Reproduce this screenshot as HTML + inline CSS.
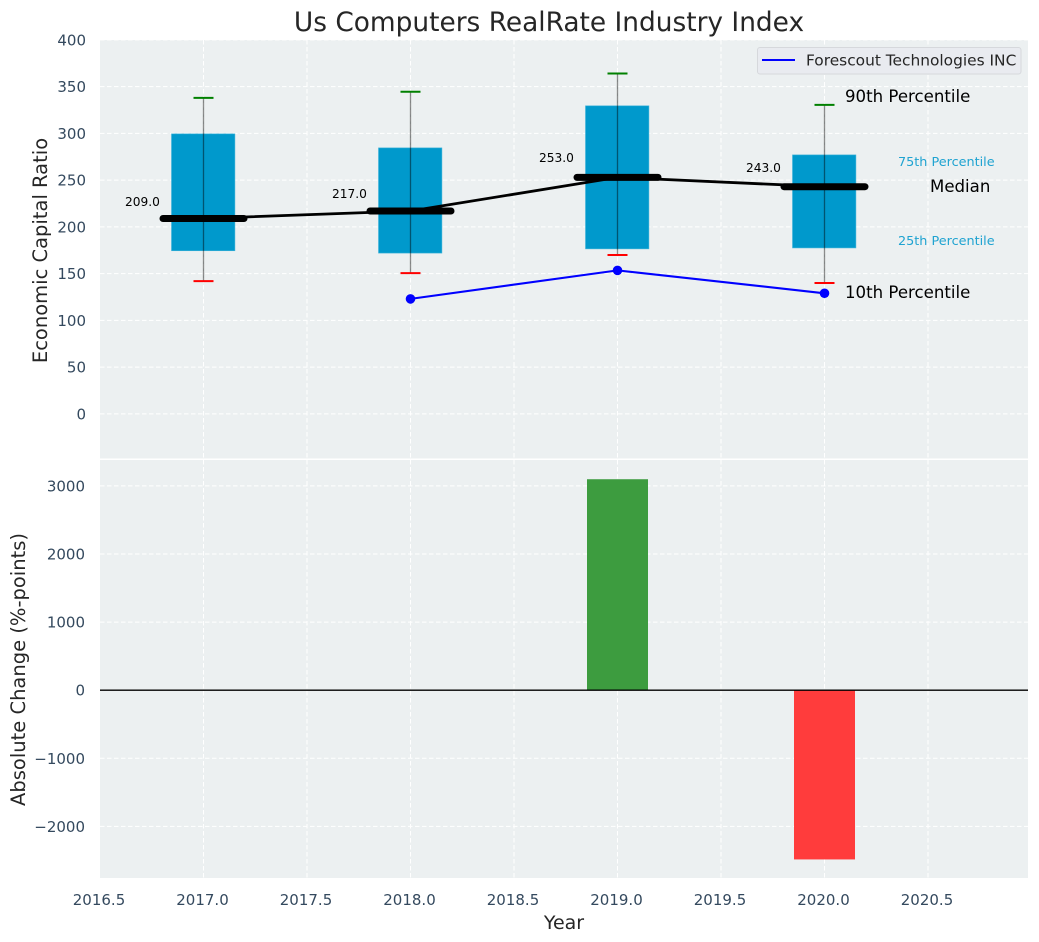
<!DOCTYPE html>
<html lang="en">
<head>
<meta charset="utf-8">
<title>Us Computers RealRate Industry Index</title>
<style>
html,body{margin:0;padding:0;background:#fff;width:1039px;height:942px;overflow:hidden}
svg{display:block}
text{font-family:"DejaVu Sans","Liberation Sans",sans-serif}
</style>
</head>
<body>
<svg id="chart" xmlns="http://www.w3.org/2000/svg" width="1039" height="942" viewBox="0 0 1039 942"></svg>
<script>
const years = [2017, 2018, 2019, 2020];
const p10 = [142, 150.5, 170, 140];
const q1 = [174.5, 172, 176.5, 177.5];
const medians = [209, 217, 253, 243];
const q3 = [299.5, 284.5, 329.5, 277];
const p90 = [338, 344.5, 364, 330.5];
const medianLabels = ['209.0', '217.0', '253.0', '243.0'];
const companyYears = [2018, 2019, 2020];
const companyValues = [123, 153.5, 129];
const changeYears = [2019, 2020];
const changeValues = [3098, -2485];
const xTicks = [2016.5, 2017, 2017.5, 2018, 2018.5, 2019, 2019.5, 2020, 2020.5];
const xTickLabels = ['2016.5', '2017.0', '2017.5', '2018.0', '2018.5', '2019.0', '2019.5', '2020.0', '2020.5'];
const topTicks = [0, 50, 100, 150, 200, 250, 300, 350, 400];
const bottomTicks = [-2000, -1000, 0, 1000, 2000, 3000];
const bottomTickLabels = ['\u22122000', '\u22121000', '0', '1000', '2000', '3000'];

const NS = 'http://www.w3.org/2000/svg';
const svg = document.getElementById('chart');
const L = 100, R = 1028;
const TOP_T = 40, TOP_B = 458.5, BOT_T = 460, BOT_B = 878;
const X = v => 203.5 + (v - 2017) * 207;
const Y1 = v => 413.9 - v * 0.935;
const Y2 = v => 690.2 - v * 0.0681;
const TICK = '#34495e';

function el(tag, props, text) {
  const e = document.createElementNS(NS, tag);
  for (const k in props) e.setAttribute(k, props[k]);
  if (text !== undefined) e.textContent = text;
  svg.appendChild(e);
  return e;
}

// panels
const topPanel = el('rect', {x: L, y: TOP_T, width: R - L, height: TOP_B - TOP_T, fill: '#ecf0f1'});


const botPanel = el('rect', {x: L, y: BOT_T, width: R - L, height: BOT_B - BOT_T, fill: '#ecf0f1'});



// grid
const gridStyle = {stroke: '#ffffff', 'stroke-width': 1, 'stroke-dasharray': '4.5 2.5', fill: 'none'};
xTicks.forEach(t => {
  if (t === 2016.5) return;
  const a = el('line', Object.assign({x1: X(t), x2: X(t), y1: TOP_T, y2: TOP_B}, gridStyle));
  
  
  const b = el('line', Object.assign({x1: X(t), x2: X(t), y1: BOT_T, y2: BOT_B}, gridStyle));
  
  
});
topTicks.forEach(t => {
  const g = el('line', Object.assign({x1: L, x2: R, y1: Y1(t), y2: Y1(t)}, gridStyle));
  
  
  const lab = el('text', {x: 86, y: Y1(t) + 5.5, 'text-anchor': 'end', 'font-size': 15, fill: TICK}, String(t));
  
  
});
bottomTicks.forEach((t, i) => {
  const g = el('line', Object.assign({x1: L, x2: R, y1: Y2(t), y2: Y2(t)}, gridStyle));
  
  
  const lab = el('text', {x: 85, y: Y2(t) + 5.5, 'text-anchor': 'end', 'font-size': 15, fill: TICK}, bottomTickLabels[i]);
  
  
});
xTicks.forEach((t, i) => {
  const lab = el('text', {x: X(t) - 1, y: 905, 'text-anchor': 'middle', 'font-size': 15, fill: TICK}, xTickLabels[i]);
  
  
});

// boxes
years.forEach((y, i) => {
  const box = el('rect', {x: X(y) - 32, y: Y1(q3[i]), width: 63.4, height: Y1(q1[i]) - Y1(q3[i]), fill: '#0099cc', stroke: '#3fb3d9', 'stroke-width': 0.6});
  
  
  const wh = el('line', {x1: X(y), x2: X(y), y1: Y1(p90[i]), y2: Y1(p10[i]), stroke: '#000', 'stroke-opacity': 0.45, 'stroke-width': 1.3});
  
  
  const capHi = el('line', {x1: X(y) - 10, x2: X(y) + 10, y1: Y1(p90[i]), y2: Y1(p90[i]), stroke: '#008000', 'stroke-width': 2});
  
  
  const capLo = el('line', {x1: X(y) - 10, x2: X(y) + 10, y1: Y1(p10[i]), y2: Y1(p10[i]), stroke: '#ff0000', 'stroke-width': 2});
  
  
});

// median trend line
const medLine = el('polyline', {points: years.map((y, i) => X(y) + ',' + Y1(medians[i])).join(' '), fill: 'none', stroke: '#000', 'stroke-width': 2.8});


years.forEach((y, i) => {
  const m = el('line', {x1: X(y) - 40.5, x2: X(y) + 40.5, y1: Y1(medians[i]), y2: Y1(medians[i]), stroke: '#000', 'stroke-width': 7, 'stroke-linecap': 'round'});
  
  
  const t = el('text', {x: X(y) - 61, y: Y1(medians[i] * 1.07) + 1.2, 'text-anchor': 'middle', 'font-size': 12.2, fill: '#000'}, medianLabels[i]);
  
  
});

// company series
const co = el('polyline', {points: companyYears.map((y, i) => X(y) + ',' + Y1(companyValues[i])).join(' '), fill: 'none', stroke: '#0000ff', 'stroke-width': 2.1});


companyYears.forEach((y, i) => {
  const c = el('circle', {cx: X(y), cy: Y1(companyValues[i]), r: 4.8, fill: '#0000ff'});
  
  
});

// percentile annotations
const a90 = el('text', {x: 845, y: 102, 'font-size': 16.6, fill: '#000'}, '90th Percentile');


const a75 = el('text', {x: 898, y: 166, 'font-size': 12.8, fill: '#1fa3d1'}, '75th Percentile');


const aMed = el('text', {x: 930, y: 192, 'font-size': 16.6, fill: '#000'}, 'Median');


const a25 = el('text', {x: 898, y: 245, 'font-size': 12.8, fill: '#1fa3d1'}, '25th Percentile');


const a10 = el('text', {x: 845, y: 298, 'font-size': 16.6, fill: '#000'}, '10th Percentile');



// legend
const lg = el('rect', {x: 757.5, y: 47.5, width: 263.5, height: 26.5, rx: 2.5, fill: '#e9ebf0', stroke: '#d6d8dc', 'stroke-width': 1});


const lgl = el('line', {x1: 762, x2: 795, y1: 60, y2: 60, stroke: '#0000ff', 'stroke-width': 2});


const lgt = el('text', {x: 806, y: 65.5, 'font-size': 15.4, fill: '#262626'}, 'Forescout Technologies INC');



// change bars
changeYears.forEach((y, i) => {
  const v = changeValues[i];
  const top = Math.min(Y2(v), Y2(0));
  const h = Math.abs(Y2(v) - Y2(0));
  const b = el('rect', {x: X(y) - 30.5, y: top, width: 61, height: h, fill: v >= 0 ? '#3d9c3f' : '#ff3c3c'});
  
  
});
const zero = el('line', {x1: L, x2: R, y1: Y2(0), y2: Y2(0), stroke: '#000', 'stroke-width': 1.3});



// titles
const title = el('text', {x: 549, y: 31, 'text-anchor': 'middle', 'font-size': 26.4, fill: '#262626'}, 'Us Computers RealRate Industry Index');


const xt = el('text', {x: 564, y: 929, 'text-anchor': 'middle', 'font-size': 19, fill: '#262626'}, 'Year');


const yt1 = el('text', {x: 0, y: 0, transform: 'translate(47,250.5) rotate(-90)', 'text-anchor': 'middle', 'font-size': 19.5, fill: '#262626'}, 'Economic Capital Ratio');


const yt2 = el('text', {x: 0, y: 0, transform: 'translate(25,669.5) rotate(-90)', 'text-anchor': 'middle', 'font-size': 19.5, fill: '#262626'}, 'Absolute Change (%-points)');


</script>
</body>
</html>
